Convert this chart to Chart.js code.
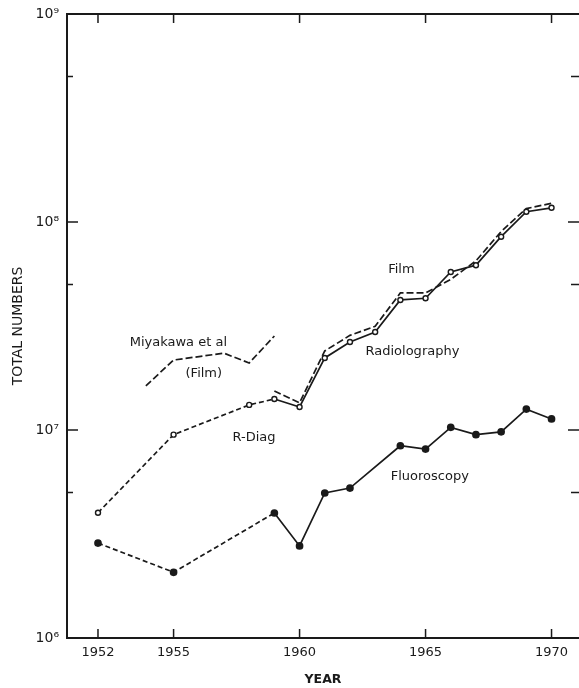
<!DOCTYPE html>
<html>
<head>
<meta charset="utf-8">
<script src="https://cdn.jsdelivr.net/npm/chart.js@4.4.1/dist/chart.umd.min.js"></script>
<style>html,body{margin:0;padding:0;background:#fff}</style>
</head>
<body>
<canvas id="chart" width="579" height="688"></canvas>
<script>
// data
var radio_years = [1952,1955,1958,1959,1960,1961,1962,1963,1964,1965,1966,1967,1968,1969,1970];
var radio_values = [4.0e6,9.5e6,1.32e7,1.41e7,1.29e7,2.22e7,2.65e7,2.96e7,4.22e7,4.3e7,5.75e7,6.2e7,8.5e7,1.12e8,1.17e8];

var film_years = [1959,1960,1961,1962,1963,1964,1965,1966,1967,1968,1969,1970];
var film_values = [1.54e7,1.35e7,2.4e7,2.85e7,3.15e7,4.56e7,4.56e7,5.3e7,6.5e7,9.0e7,1.16e8,1.23e8];

var miya_years = [1953.9,1955,1957,1958,1959];
var miya_values = [1.63e7,2.17e7,2.34e7,2.1e7,2.83e7];

var fluoro_years = [1952,1955,1959,1960,1961,1962,1964,1965,1966,1967,1968,1969,1970];
var fluoro_values = [2.86e6,2.07e6,3.99e6,2.77e6,4.98e6,5.26e6,8.4e6,8.1e6,1.03e7,9.5e6,9.8e6,1.26e7,1.13e7];

var x_ticks = [1952,1955,1960,1965,1970];
var y_ticks = [1e6,1e7,1e8,1e9];
var y_minor = [5e6,5e7,5e8];
var sup = {6:'\u2076',7:'\u2077',8:'\u2078',9:'\u2079'};

// text labels placed in data coordinates
var notes = [
    {text:'Miyakawa et al', x:1955.19, y:2.62e7},
    {text:'(Film)', x:1956.2, y:1.86e7},
    {text:'R-Diag', x:1958.19, y:9.2e6},
    {text:'Film', x:1964.04, y:5.88e7},
    {text:'Radiolography', x:1964.48, y:2.37e7},
    {text:'Fluoroscopy', x:1965.17, y:5.94e6}
];

function pts(xs, ys) {
    var out = [];
    for (var i = 0; i < xs.length; i++) out.push({x: xs[i], y: ys[i]});
    return out;
}

var ink = '#1a1a1a';
var font_main = 'DejaVu Sans';

var frame_plugin = {
    id: 'frame',
    afterDatasetsDraw: function(chart) {
        var ctx = chart.ctx, a = chart.chartArea;
        var xs = chart.scales.x, ys = chart.scales.y;
        ctx.save();
        ctx.strokeStyle = ink;
        ctx.lineWidth = 2;
        ctx.beginPath();
        ctx.moveTo(a.left, a.top);
        ctx.lineTo(a.right, a.top);
        ctx.stroke();
        ctx.lineWidth = 1.5;
        ctx.beginPath();
        x_ticks.forEach(function(v) {
            var px = xs.getPixelForValue(v);
            ctx.moveTo(px, a.bottom); ctx.lineTo(px, a.bottom - 9);
            ctx.moveTo(px, a.top); ctx.lineTo(px, a.top + 9);
        });
        y_ticks.forEach(function(v) {
            var py = ys.getPixelForValue(v);
            ctx.moveTo(a.left, py); ctx.lineTo(a.left + 11, py);
            ctx.moveTo(a.right, py); ctx.lineTo(a.right - 11, py);
        });
        y_minor.forEach(function(v) {
            var py = ys.getPixelForValue(v);
            ctx.moveTo(a.left, py); ctx.lineTo(a.left + 6, py);
            ctx.moveTo(a.right, py); ctx.lineTo(a.right - 8, py);
        });
        ctx.stroke();
        ctx.fillStyle = ink;
        ctx.font = '13px "' + font_main + '"';
        ctx.textAlign = 'center';
        ctx.textBaseline = 'middle';
        notes.forEach(function(n) {
            ctx.fillText(n.text, xs.getPixelForValue(n.x), ys.getPixelForValue(n.y));
        });
        ctx.restore();
    }
};

var dashed_early = function(c) {
    return c.p1.parsed.x <= 1959 ? [5, 3] : undefined;
};

var ctx = document.getElementById('chart').getContext('2d');
var myChart = new Chart(ctx, {
    type: 'line',
    data: {
        datasets: [{
            label: 'Radiography',
            data: pts(radio_years, radio_values),
            borderColor: ink,
            borderWidth: 1.7,
            pointRadius: 2.5,
            pointBackgroundColor: '#fff',
            pointBorderColor: ink,
            pointBorderWidth: 1.4,
            segment: {borderDash: dashed_early}
        }, {
            label: 'Film',
            data: pts(film_years, film_values),
            borderColor: ink,
            borderWidth: 1.7,
            borderDash: [7, 3],
            pointRadius: 0
        }, {
            label: 'Miyakawa et al (Film)',
            data: pts(miya_years, miya_values),
            borderColor: ink,
            borderWidth: 1.7,
            borderDash: [7, 3],
            pointRadius: 0
        }, {
            label: 'Fluoroscopy',
            data: pts(fluoro_years, fluoro_values),
            borderColor: ink,
            borderWidth: 1.7,
            pointRadius: 3,
            pointBackgroundColor: ink,
            pointBorderColor: ink,
            segment: {borderDash: dashed_early}
        }]
    },
    options: {
        responsive: false,
        animation: false,
        layout: {autoPadding: false, padding: {top: 14, right: 0, left: 0, bottom: 0}},
        scales: {
            x: {
                type: 'linear',
                min: 1950.77,
                max: 1971.09,
                afterBuildTicks: function(s) { s.ticks = x_ticks.map(function(v){return {value: v};}); },
                afterFit: function(s) { s.height = 50; s.paddingRight = 0; s.paddingLeft = 0; },
                grid: {display: false, drawTicks: false},
                border: {display: true, color: ink, width: 2},
                ticks: {color: ink, padding: 7, font: {family: font_main, size: 13}, callback: function(v){ return String(v); }},
                title: {display: true, text: 'YEAR', color: ink, font: {family: font_main, size: 12.5, weight: 'bold'}, padding: {top: 2, bottom: 1}}
            },
            y: {
                type: 'logarithmic',
                min: 1e6,
                max: 1e9,
                afterBuildTicks: function(s) { s.ticks = y_ticks.map(function(v){return {value: v};}); },
                afterFit: function(s) { s.width = 67; s.paddingTop = 0; s.paddingBottom = 0; },
                grid: {display: false, drawTicks: false},
                border: {display: true, color: ink, width: 2},
                ticks: {color: ink, padding: 8, font: {family: font_main, size: 14},
                    callback: function(v) { return '10' + sup[Math.round(Math.log10(v))]; }},
                title: {display: true, text: 'TOTAL NUMBERS', color: ink, font: {family: font_main, size: 14}, padding: {top: 10, bottom: 0}}
            }
        },
        plugins: {
            legend: {display: false},
            tooltip: {enabled: false}
        }
    },
    plugins: [frame_plugin]
});
</script>
</body>
</html>
